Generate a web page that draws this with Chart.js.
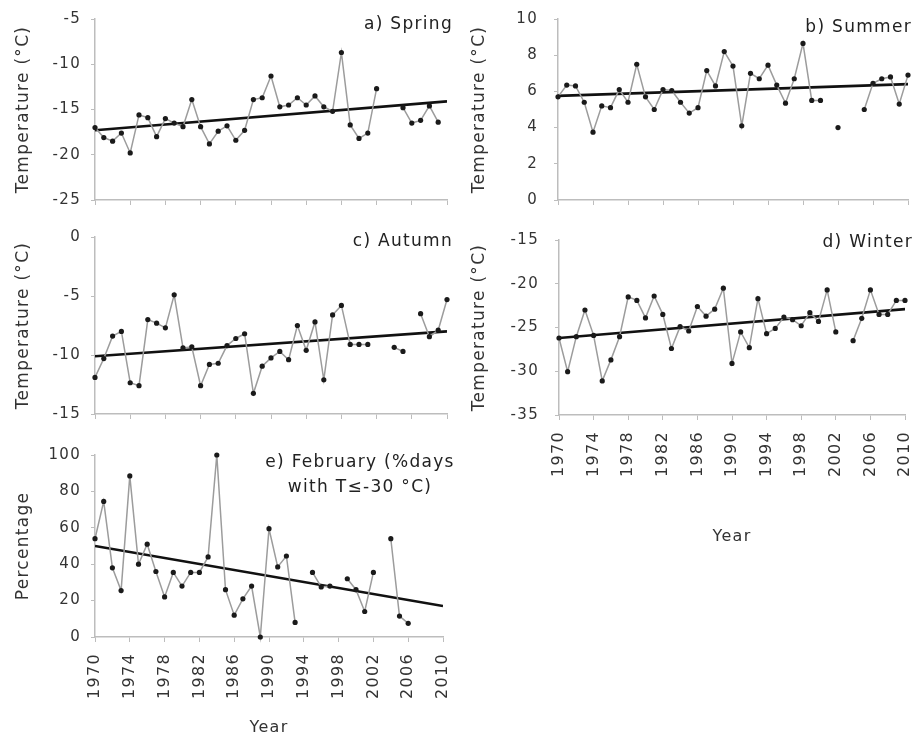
<!DOCTYPE html>
<html>
<head>
<meta charset="utf-8">
<script src="https://cdn.jsdelivr.net/npm/chart.js@4.4.1/dist/chart.umd.min.js"></script>
<style>
  body { margin: 0; background: #fff; width: 919px; height: 741px; position: relative; overflow: hidden; }
  canvas { position: absolute; }
</style>
</head>
<body>
<canvas id="spring" width="460" height="215" style="left:0;top:0"></canvas>
<canvas id="summer" width="459" height="215" style="left:460px;top:0"></canvas>
<canvas id="autumn" width="460" height="205" style="left:0;top:215px"></canvas>
<canvas id="winter" width="459" height="335" style="left:460px;top:215px"></canvas>
<canvas id="february" width="460" height="321" style="left:0;top:420px"></canvas>
<script>
// years of record
const years = [1970, 1971, 1972, 1973, 1974, 1975, 1976, 1977, 1978, 1979,
               1980, 1981, 1982, 1983, 1984, 1985, 1986, 1987, 1988, 1989,
               1990, 1991, 1992, 1993, 1994, 1995, 1996, 1997, 1998, 1999,
               2000, 2001, 2002, 2003, 2004, 2005, 2006, 2007, 2008, 2009, 2010];
const yearTicks = [1970, 1974, 1978, 1982, 1986, 1990, 1994, 1998, 2002, 2006, 2010];
const trendYears = [1970, 2010];

// seasonal mean temperatures (°C), null = no data
const springTemp = [-17.0, -18.1, -18.5, -17.6, -19.8, -15.6, -15.9, -18.0, -16.0, -16.5,
                    -16.9, -13.9, -16.9, -18.8, -17.4, -16.8, -18.4, -17.3, -13.9, -13.7,
                    -11.3, -14.7, -14.5, -13.7, -14.5, -13.5, -14.7, -15.2, -8.7, -16.7,
                    -18.2, -17.6, -12.7, null, null, -14.8, -16.5, -16.2, -14.6, -16.4, null];
const summerTemp = [5.7, 6.35, 6.3, 5.4, 3.75, 5.2, 5.1, 6.1, 5.4, 7.5,
                    5.7, 5.0, 6.1, 6.05, 5.4, 4.8, 5.1, 7.15, 6.3, 8.2,
                    7.4, 4.1, 7.0, 6.7, 7.45, 6.35, 5.35, 6.7, 8.65, 5.5,
                    5.5, null, 4.0, null, null, 5.0, 6.45, 6.7, 6.8, 5.3, 6.9];
const autumnTemp = [-11.9, -10.3, -8.4, -8.0, -12.35, -12.6, -7.0, -7.3, -7.7, -4.9,
                    -9.4, -9.3, -12.6, -10.8, -10.7, -9.2, -8.6, -8.2, -13.25, -10.95,
                    -10.25, -9.7, -10.4, -7.5, -9.6, -7.2, -12.1, -6.6, -5.8, -9.1,
                    -9.1, -9.1, null, null, -9.35, -9.7, null, -6.5, -8.45, -7.9, -5.3];
const winterTemp = [-26.2, -30.05, -26.05, -23.0, -25.9, -31.1, -28.7, -26.05, -21.5, -21.9,
                    -23.9, -21.4, -23.5, -27.4, -24.9, -25.4, -22.6, -23.7, -22.9, -20.5,
                    -29.1, -25.5, -27.3, -21.7, -25.7, -25.1, -23.8, -24.1, -24.8, -23.3,
                    -24.3, -20.7, -25.5, null, -26.5, -23.95, -20.7, -23.5, -23.5, -21.9, -21.9];
// February: % of days with T <= -30 °C
const febPercent = [54, 74.5, 38, 25.5, 88.5, 40, 51, 36, 22, 35.5,
                    28, 35.5, 35.5, 44, 100, 26, 12, 21, 28, 0,
                    59.5, 38.5, 44.5, 8, null, 35.5, 27.5, 28, null, 32,
                    26, 14, 35.5, null, 54, 11.5, 7.5, null, null, null, null];

// linear trends (start, end)
const springTrend = [-17.3, -14.1];
const summerTrend = [5.75, 6.4];
const autumnTrend = [-10.1, -8.0];
const winterTrend = [-26.2, -22.9];
const febTrend = [50, 17];

const textColor = '#333';
const axisColor = '#bdbdbd';

function toPoints(xs, ys) {
    return xs.map((x, i) => ({ x: x, y: ys[i] }));
}

function makePanel(id, p) {
    const canvas = document.getElementById(id);
    const cw = canvas.width, ch = canvas.height;

    // scanned original has wide letter spacing on all text
    const spacing = {
        id: 'spacing',
        beforeDraw(chart) { chart.ctx.letterSpacing = '1.3px'; }
    };

    const panelTitle = {
        id: 'panelTitle',
        afterDraw(chart) {
            const ctx = chart.ctx;
            const a = chart.chartArea;
            ctx.save();
            ctx.font = '17px "DejaVu Sans"';
            ctx.fillStyle = '#222';
            ctx.textBaseline = 'middle';
            ctx.textAlign = p.titleAlign || 'right';
            const x = p.titleAlign === 'center' ? a.right - p.titleDx : a.right + p.titleDx;
            p.title.forEach((line, i) => ctx.fillText(line, x, a.top + p.titleDy + i * 25));
            ctx.restore();
        }
    };

    return new Chart(canvas, {
        type: 'line',
        data: {
            datasets: [{
                data: toPoints(years, p.values),
                borderColor: '#9c9c9c',
                borderWidth: 1.5,
                pointRadius: 2.6,
                pointBackgroundColor: '#1a1a1a',
                pointBorderWidth: 0,
                spanGaps: false,
                tension: 0,
                clip: 6
            }, {
                data: toPoints(trendYears, p.trend),
                borderColor: '#111',
                borderWidth: 2.6,
                pointRadius: 0
            }]
        },
        options: {
            responsive: false,
            animation: false,
            events: [],
            layout: { padding: { top: p.area.top, right: cw - p.area.right, left: 0, bottom: 0 } },
            plugins: { legend: { display: false }, tooltip: { enabled: false } },
            scales: {
                x: {
                    type: 'linear',
                    min: 1970,
                    max: 2010,
                    afterBuildTicks: s => { s.ticks = yearTicks.map(v => ({ value: v })); },
                    afterFit: s => {
                        s.height = ch - p.area.bottom;
                        s.paddingLeft = 0;
                        s.paddingRight = 0;
                    },
                    grid: { drawOnChartArea: false, drawTicks: true, tickLength: 5, color: axisColor },
                    border: { color: axisColor, width: 1.5 },
                    ticks: {
                        display: p.showYears,
                        minRotation: 90,
                        maxRotation: 90,
                        padding: 11,
                        color: textColor,
                        font: { family: 'DejaVu Sans', size: 16 },
                        callback: v => String(v)
                    },
                    title: {
                        display: p.showYears,
                        text: 'Year',
                        color: textColor,
                        font: { family: 'DejaVu Sans', size: 16 },
                        padding: { top: 4, bottom: 4 }
                    }
                },
                y: {
                    min: p.yMin,
                    max: p.yMax,
                    afterFit: s => {
                        s.width = p.area.left;
                        s.paddingTop = 0;
                        s.paddingBottom = 0;
                    },
                    grid: { drawOnChartArea: false, drawTicks: true, tickLength: 4, color: axisColor },
                    border: { color: axisColor, width: 1.5 },
                    ticks: {
                        stepSize: p.yStep,
                        padding: p.tickPad,
                        color: textColor,
                        font: { family: 'DejaVu Sans', size: 15 }
                    },
                    title: {
                        display: true,
                        text: p.yTitle,
                        color: textColor,
                        font: { family: 'DejaVu Sans', size: 17 },
                        padding: { top: p.yTitlePad, bottom: 0 }
                    }
                }
            }
        },
        plugins: [spacing, panelTitle]
    });
}

makePanel('spring', {
    values: springTemp, trend: springTrend,
    yMin: -25, yMax: -5, yStep: 5, yTitle: 'Temperature (°C)',
    title: ['a) Spring'], titleDx: 6, titleDy: 6,
    area: { left: 95, top: 19, right: 447, bottom: 200 },
    showYears: false, tickPad: 10, yTitlePad: 13
});
makePanel('summer', {
    values: summerTemp, trend: summerTrend,
    yMin: 0, yMax: 10, yStep: 2, yTitle: 'Temperature (°C)',
    title: ['b) Summer'], titleDx: 4, titleDy: 9,
    area: { left: 98, top: 19, right: 448, bottom: 200 },
    showYears: false, tickPad: 16, yTitlePad: 9
});
makePanel('autumn', {
    values: autumnTemp, trend: autumnTrend,
    yMin: -15, yMax: 0, yStep: 5, yTitle: 'Temperature (°C)',
    title: ['c) Autumn'], titleDx: 6, titleDy: 5,
    area: { left: 95, top: 22, right: 447, bottom: 199 },
    showYears: false, tickPad: 10, yTitlePad: 13
});
makePanel('winter', {
    values: winterTemp, trend: winterTrend,
    yMin: -35, yMax: -15, yStep: 5, yTitle: 'Temperature (°C)',
    title: ['d) Winter'], titleDx: 8, titleDy: 3,
    area: { left: 99, top: 25, right: 445, bottom: 200 },
    showYears: true, tickPad: 16, yTitlePad: 9
});
makePanel('february', {
    values: febPercent, trend: febTrend,
    yMin: 0, yMax: 100, yStep: 20, yTitle: 'Percentage',
    title: ['e) February (%days', 'with T\u2264-30 \u00B0C)'], titleAlign: 'center', titleDx: 83, titleDy: 8,
    area: { left: 95, top: 35, right: 443, bottom: 217 },
    showYears: true, tickPad: 10, yTitlePad: 13
});
</script>
</body>
</html>
